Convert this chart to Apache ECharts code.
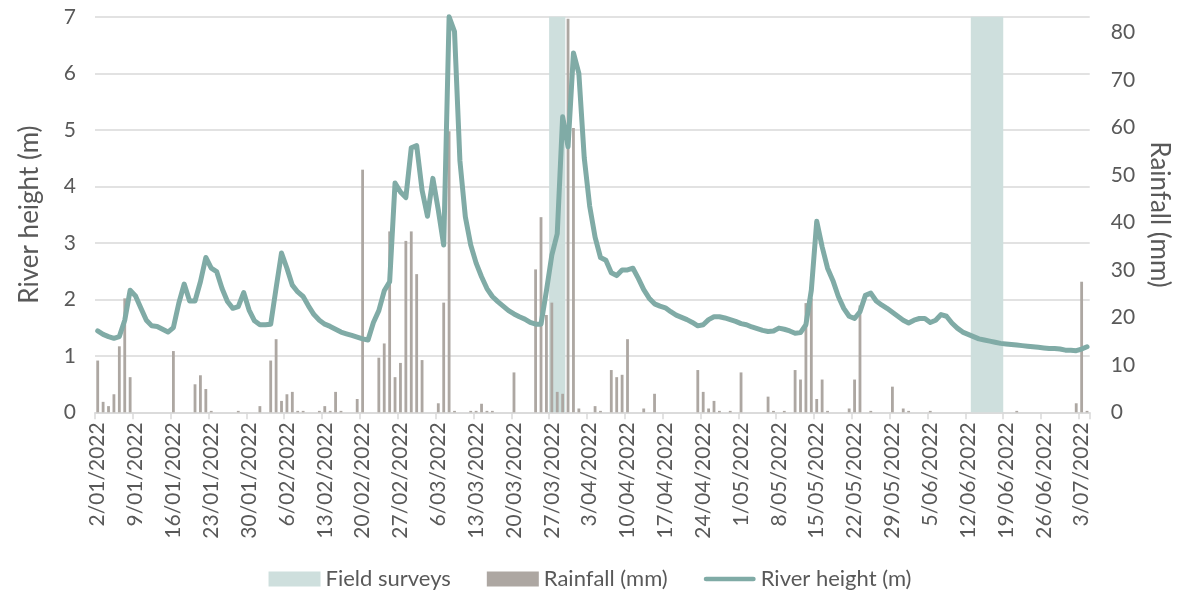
<!DOCTYPE html>
<html>
<head>
<meta charset="utf-8">
<script src="https://cdn.jsdelivr.net/npm/echarts@6/dist/echarts.min.js"></script>
<style>
  html, body { margin: 0; padding: 0; background: #ffffff; }
  #chart { width: 1180px; height: 597px; }
</style>
</head>
<body>
<div id="chart"></div>
<script>
// ---- Data ----
const startDate = [2022, 1, 2];   // first day shown: 2/01/2022
const dayCount = 184;             // 2/01/2022 .. 4/07/2022

const rainfall = [
  10.9, 2.2, 1.3, 3.8, 13.9, 24.0, 7.4, 0, 0, 0,
  0, 0, 0, 0, 12.9, 0, 0, 0, 5.9, 7.8,
  4.9, 0.3, 0, 0, 0, 0, 0.3, 0, 0, 0,
  1.3, 0, 10.9, 15.4, 2.4, 3.8, 4.3, 0.3, 0.3, 0,
  0, 0.3, 1.3, 0.3, 4.3, 0.3, 0, 0, 2.8, 51.1,
  0, 0, 11.5, 14.5, 38.1, 7.4, 10.4, 36.1, 38.1, 29.1,
  11.0, 0, 0, 1.9, 23.1, 59.2, 0.3, 0, 0, 0.3,
  0.3, 1.8, 0.3, 0.3, 0, 0, 0, 8.4, 0, 0,
  0, 30.1, 41.1, 20.5, 23.1, 4.3, 3.9, 82.9, 59.9, 0.8,
  0, 0, 1.3, 0.3, 0, 8.9, 7.4, 7.9, 15.4, 0,
  0, 0.8, 0, 3.9, 0, 0, 0, 0, 0, 0,
  0, 8.9, 4.3, 0.8, 2.4, 0.3, 0, 0.3, 0, 8.4,
  0, 0, 0, 0, 3.3, 0.3, 0, 0.3, 0, 8.9,
  6.9, 23.0, 24.0, 2.8, 6.9, 0.3, 0, 0, 0, 0.8,
  6.9, 22.5, 0, 0.3, 0, 0, 0, 5.4, 0, 0.8,
  0.3, 0, 0, 0, 0.3, 0, 0, 0, 0, 0,
  0, 0, 0, 0, 0, 0, 0, 0, 0, 0,
  0.3, 0, 0, 0, 0, 0, 0, 0, 0, 0,
  0, 1.9, 27.5, 0.3
];

const riverHeight = [
  1.44, 1.38, 1.34, 1.31, 1.34, 1.63, 2.16, 2.06, 1.84, 1.63,
  1.53, 1.52, 1.47, 1.42, 1.50, 1.93, 2.27, 1.97, 1.97, 2.31,
  2.74, 2.55, 2.49, 2.19, 1.96, 1.84, 1.87, 2.12, 1.81, 1.62,
  1.55, 1.55, 1.56, 2.20, 2.82, 2.55, 2.25, 2.13, 2.05, 1.88,
  1.73, 1.63, 1.56, 1.52, 1.47, 1.42, 1.39, 1.36, 1.33, 1.30,
  1.28, 1.59, 1.80, 2.15, 2.31, 4.06, 3.90, 3.80, 4.68, 4.72,
  3.93, 3.47, 4.14, 3.58, 2.96, 7.00, 6.74, 4.45, 3.46, 2.96,
  2.64, 2.40, 2.19, 2.05, 1.96, 1.88, 1.80, 1.74, 1.69, 1.65,
  1.59, 1.56, 1.56, 2.15, 2.78, 3.16, 5.23, 4.70, 6.36, 6.00,
  4.50, 3.65, 3.10, 2.74, 2.69, 2.47, 2.42, 2.52, 2.52, 2.55,
  2.37, 2.17, 2.02, 1.92, 1.88, 1.85, 1.78, 1.72, 1.68, 1.64,
  1.59, 1.53, 1.55, 1.64, 1.69, 1.69, 1.67, 1.64, 1.61, 1.57,
  1.55, 1.51, 1.48, 1.45, 1.43, 1.44, 1.49, 1.47, 1.44, 1.40,
  1.41, 1.55, 2.16, 3.38, 2.93, 2.55, 2.33, 2.05, 1.84, 1.70,
  1.66, 1.78, 2.07, 2.11, 1.97, 1.90, 1.84, 1.77, 1.70, 1.63,
  1.58, 1.63, 1.66, 1.66, 1.59, 1.63, 1.73, 1.70, 1.58, 1.49,
  1.42, 1.38, 1.34, 1.30, 1.28, 1.26, 1.24, 1.22, 1.21, 1.20,
  1.19, 1.18, 1.17, 1.16, 1.15, 1.14, 1.13, 1.13, 1.12, 1.10,
  1.10, 1.09, 1.12, 1.16
];

// Field survey periods: [first day, last day] (inclusive)
const surveyPeriods = [
  ['27/03/2022', '29/03/2022'],
  ['13/06/2022', '18/06/2022']
];

const leftTicks = [0, 1, 2, 3, 4, 5, 6, 7];
const rightTicks = [0, 10, 20, 30, 40, 50, 60, 70, 80];

// ---- Category labels (calendar days) ----
const dates = [];
for (let i = 0; i < dayCount; i++) {
  const d = new Date(Date.UTC(startDate[0], startDate[1] - 1, startDate[2] + i));
  const dd = d.getUTCDate();
  const mm = String(d.getUTCMonth() + 1).padStart(2, '0');
  dates.push(dd + '/' + mm + '/' + d.getUTCFullYear());
}
// survey bands on a hidden day-index axis whose unit is one category band
const surveyAreas = surveyPeriods.map(p => [
  { xAxis: dates.indexOf(p[0]) },
  { xAxis: dates.indexOf(p[1]) + 1 }
]);

const FONT = 'Lato';
const TXT = '#595959';
const GRID = '#D9D9D9';
const LINE = '#80ABA6';
const SURVEY = '#CEDFDD';

const chart = echarts.init(document.getElementById('chart'));
chart.setOption({
  animation: false,
  textStyle: { fontFamily: FONT, color: TXT },
  grid: { left: 95, right: 87, top: 16.8, bottom: 184.7, containLabel: false },
  legend: {
    bottom: 2,
    left: 'center',
    itemWidth: 52,
    itemHeight: 15,
    itemGap: 36,
    symbolKeepAspect: true,
    textStyle: { fontFamily: FONT, fontSize: 22, color: TXT },
    data: [
      { name: 'Field surveys', icon: 'rect', itemStyle: { color: SURVEY } },
      { name: 'Rainfall (mm)', icon: 'rect' },
      { name: 'River height (m)', icon: 'path://M5,0 L105,0 A5,5 0 0 1 105,10 L5,10 A5,5 0 0 1 5,0 Z' }
    ]
  },
  xAxis: [
    {
      type: 'category',
      data: dates,
      boundaryGap: true,
      axisLine: { show: true, lineStyle: { color: GRID, width: 1.5 } },
      axisTick: { show: true, interval: 6, length: 7, lineStyle: { color: GRID, width: 1.5 } },
      axisLabel: { interval: 6, rotate: 90, fontFamily: FONT, fontSize: 21, color: TXT, margin: 10 },
      splitLine: { show: false }
    },
    {
      type: 'value',
      min: 0,
      max: dayCount,
      show: false,
      splitLine: { show: false }
    }
  ],
  yAxis: [
    {
      type: 'value',
      min: 0, max: leftTicks[leftTicks.length - 1], interval: 1,
      name: 'River height (m)',
      nameLocation: 'middle',
      nameRotate: 90,
      nameGap: 52,
      nameTextStyle: { fontFamily: FONT, fontSize: 26, color: TXT },
      axisLine: { show: false },
      axisTick: { show: false },
      axisLabel: { fontFamily: FONT, fontSize: 21, color: TXT, margin: 19 },
      splitLine: { show: true, lineStyle: { color: GRID, width: 1.5 } }
    },
    {
      type: 'value',
      min: 0, max: 83.3, interval: 10,
      name: 'Rainfall (mm)',
      nameLocation: 'middle',
      nameRotate: -90,
      nameGap: 56,
      nameTextStyle: { fontFamily: FONT, fontSize: 26, color: TXT },
      axisLine: { show: false },
      axisTick: { show: false },
      axisLabel: {
        fontFamily: FONT, fontSize: 21, color: TXT, margin: 21,
        formatter: v => rightTicks.includes(v) ? String(v) : ''
      },
      splitLine: { show: false }
    }
  ],
  series: [
    {
      name: 'Field surveys',
      type: 'line',
      xAxisIndex: 1,
      yAxisIndex: 0,
      data: [],
      symbol: 'none',
      itemStyle: { color: SURVEY },
      lineStyle: { color: SURVEY },
      silent: true,
      z: 1,
      markArea: {
        silent: true,
        itemStyle: { color: SURVEY, opacity: 1 },
        data: surveyAreas
      }
    },
    {
      name: 'Rainfall (mm)',
      type: 'bar',
      xAxisIndex: 0,
      yAxisIndex: 1,
      data: rainfall,
      barWidth: '52%',
      itemStyle: { color: '#ADA7A2' },
      z: 2
    },
    {
      name: 'River height (m)',
      type: 'line',
      xAxisIndex: 0,
      yAxisIndex: 0,
      data: riverHeight,
      showSymbol: false,
      symbol: 'none',
      clip: false,
      lineStyle: { color: LINE, width: 5, cap: 'round', join: 'round' },
      itemStyle: { color: LINE },
      z: 3
    }
  ]
});
</script>
</body>
</html>
